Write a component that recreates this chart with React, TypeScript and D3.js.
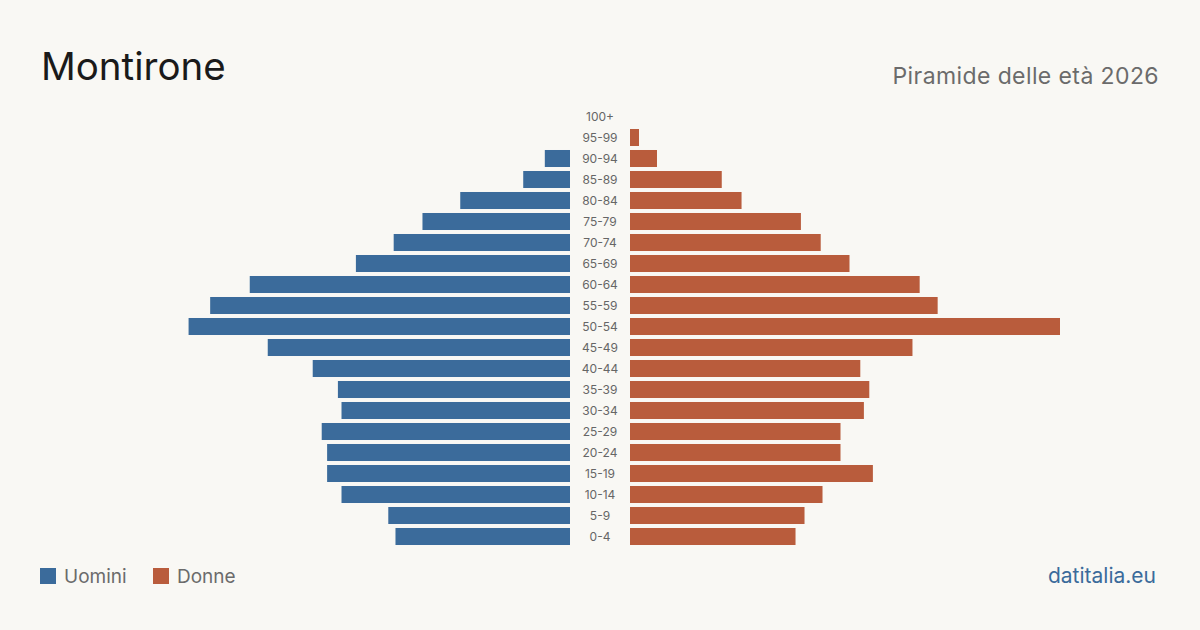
import { useEffect, useRef } from "react";
import * as d3 from "d3";

// age groups, oldest on top
const ageGroups = [
  "100+", "95-99", "90-94", "85-89", "80-84", "75-79", "70-74", "65-69",
  "60-64", "55-59", "50-54", "45-49", "40-44", "35-39", "30-34", "25-29",
  "20-24", "15-19", "10-14", "5-9", "0-4",
];

// residents per age group
const men = [
  0, 0, 14, 26, 61, 82, 98, 119, 178, 200, 212, 168, 143, 129, 127, 138,
  135, 135, 127, 101, 97,
];
const women = [
  0, 5, 15, 51, 62, 95, 106, 122, 161, 171, 239, 157, 128, 133, 130, 117,
  117, 135, 107, 97, 92,
];

const legendItems = ["Uomini", "Donne"];

const W = 1200;
const H = 630;
const BLUE = "#3b6b9b";
const RED = "#b95c3c";
const FONT = "Inter, 'Noto Sans', sans-serif";

export default function App() {
  const svgRef = useRef<SVGSVGElement>(null);

  useEffect(() => {
    if (!svgRef.current) return;
    const svg = d3.select(svgRef.current);
    svg.selectAll("*").remove();

    svg.append("rect").attr("width", W).attr("height", H).attr("fill", "#f9f8f4");

    const centerX = 600;
    const half = 30;
    const maxVal = d3.max([...men, ...women]) as number;

    const x = d3.scaleLinear().domain([0, maxVal]).range([0, 430]);
    const y = d3
      .scaleBand<string>()
      .domain(ageGroups)
      .range([106, 547])
      .paddingInner(0.19)
      .paddingOuter(0.095);

    const rows = ageGroups.map((g, i) => ({ g, m: men[i], f: women[i] }));

    svg
      .append("g")
      .selectAll("rect")
      .data(rows.filter((d) => d.m > 0))
      .join("rect")
      .attr("x", (d) => centerX - half - x(d.m))
      .attr("y", (d) => y(d.g)!)
      .attr("width", (d) => x(d.m))
      .attr("height", y.bandwidth())
      .attr("fill", BLUE);

    svg
      .append("g")
      .selectAll("rect")
      .data(rows.filter((d) => d.f > 0))
      .join("rect")
      .attr("x", centerX + half)
      .attr("y", (d) => y(d.g)!)
      .attr("width", (d) => x(d.f))
      .attr("height", y.bandwidth())
      .attr("fill", RED);

    svg
      .append("g")
      .selectAll("text")
      .data(ageGroups)
      .join("text")
      .attr("x", centerX)
      .attr("y", (d) => y(d)! + y.bandwidth() / 2)
      .attr("dy", "0.35em")
      .attr("text-anchor", "middle")
      .attr("font-family", FONT)
      .attr("font-size", 12)
      .attr("fill", "#666")
      .text((d) => d);

    // header
    svg
      .append("text")
      .attr("x", 41)
      .attr("y", 80)
      .attr("font-family", FONT)
      .attr("font-size", 38.5)
      .attr("fill", "#1a1a1a")
      .text("Montirone");

    svg
      .append("text")
      .attr("x", 1159)
      .attr("y", 84)
      .attr("text-anchor", "end")
      .attr("font-family", FONT)
      .attr("font-size", 23)
      .attr("letter-spacing", 0.4)
      .attr("fill", "#6b6b6b")
      .text("Piramide delle età 2026");

    // legend
    const legend = svg.append("g").attr("transform", "translate(40,568)");
    const offsets = [0, 113];
    legendItems.forEach((name, i) => {
      legend
        .append("rect")
        .attr("x", offsets[i])
        .attr("width", 16)
        .attr("height", 16)
        .attr("fill", i === 0 ? BLUE : RED);
      legend
        .append("text")
        .attr("x", offsets[i] + 24)
        .attr("y", 15)
        .attr("font-family", FONT)
        .attr("font-size", 19)
        .attr("fill", "#6b6b6b")
        .text(name);
    });

    svg
      .append("text")
      .attr("x", 1156)
      .attr("y", 583)
      .attr("text-anchor", "end")
      .attr("font-family", FONT)
      .attr("font-size", 21)
      .attr("fill", BLUE)
      .text("datitalia.eu");
  }, []);

  return (
    <svg
      ref={svgRef}
      width={W}
      height={H}
      style={{ position: "absolute", left: 0, top: 0, display: "block" }}
    />
  );
}
